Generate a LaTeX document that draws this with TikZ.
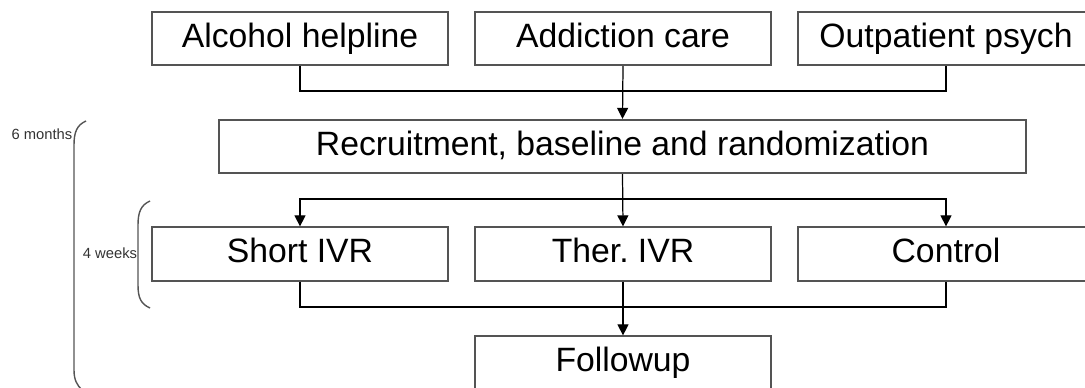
\documentclass[tikz,border=0pt]{standalone}
\usepackage{fontspec}
\setmainfont{Liberation Sans}
\usepackage{tikz}
\usetikzlibrary{positioning}
\usetikzlibrary{arrows.meta}
\definecolor{accent}{rgb}{0.33,0.33,0.33}

\begin{document}
\begin{tikzpicture}[
  x=0.02cm, y=-0.02cm,
  box/.style = {draw=accent, line width=1pt, inner sep=0pt,
    minimum width=5.92cm, minimum height=1.07cm,
    text height=13.8pt, text depth=3.8pt,
    font=\fontsize{19.2}{22}\selectfont},
  line/.style = {thin, color=black, line width=0.7pt},
  brace/.style = {accent, line width=0.8pt},
  small/.style = {inner sep=0pt, font=\fontsize{8.4}{10}\selectfont, text=black!80},
  >={Triangle[width=0.22cm, length=0.22cm]},
]

  \clip (0,0) rectangle (1085,388);

  % sources
  \node[box] (helpline) at (300,38.5) {Alcohol helpline};
  \node[box] (addiction) at (623,38.5) {Addiction care};
  \node[box] (outpatient) at (946,38.5) {Outpatient psych};

  \node[box, minimum width=16.14cm] (recruit) at (622.5,146.5)
    {Recruitment, baseline and randomization};

  % arms
  \node[box] (short) at (300,254) {Short IVR};
  \node[box] (ther) at (623,254) {Ther.\ IVR};
  \node[box] (control) at (946,254) {Control};

  \node[box] (followup) at (623,363) {Followup};

  \coordinate (jointop) at (623,91);
  \coordinate (split) at (623,199);
  \coordinate (joinbot) at (623,307);

  \draw[line] (helpline.south) |- (jointop) -| (outpatient.south);
  \draw[line,->] (addiction.south) -- (recruit.north);

  \draw[line,->] (recruit.south) -- (ther.north);
  \draw[line,->] (split) -| (short.north);
  \draw[line,->] (split) -| (control.north);

  \draw[line] (short.south) |- (joinbot) -| (control.south);
  \draw[line,->] (ther.south) -- (followup.north);

  % time spans
  \node[small] (sixmonths) at (42,134) {6 months};
  \draw[brace] (86,121) .. controls (77,125) and (74,132) .. (74,145)
    -- (74,370) .. controls (74,380) and (77,385) .. (82,390);

  \node[small] (fourweeks) at (110,253) {4 weeks};
  \draw[brace] (150,201) .. controls (141,205) and (138,212) .. (138,225)
    -- (138,285) .. controls (138,298) and (141,304) .. (150,308);

\end{tikzpicture}
\end{document}
